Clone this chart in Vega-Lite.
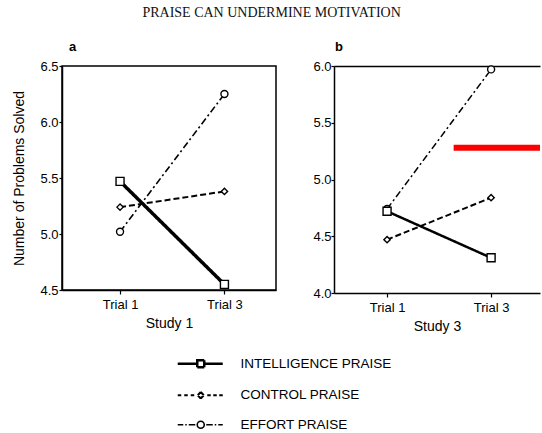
{
  "$schema": "https://vega.github.io/schema/vega-lite/v6.json",
  "background": "white",
  "padding": {"left": 12, "top": 6, "right": 0, "bottom": 0},
  "title": {"text": "PRAISE CAN UNDERMINE MOTIVATION", "font": "Liberation Serif", "fontSize": 14, "fontWeight": "normal", "color": "#111111", "anchor": "middle", "offset": 20, "dx": -6},
  "datasets": {
    "scores": [
      {"study": "Study 1", "praise": "EFFORT PRAISE", "trial": "Trial 1", "pos": 1, "value": 5.02},
      {"study": "Study 1", "praise": "EFFORT PRAISE", "trial": "Trial 3", "pos": 2, "value": 6.25},
      {"study": "Study 1", "praise": "CONTROL PRAISE", "trial": "Trial 1", "pos": 1, "value": 5.24},
      {"study": "Study 1", "praise": "CONTROL PRAISE", "trial": "Trial 3", "pos": 2, "value": 5.38},
      {"study": "Study 1", "praise": "INTELLIGENCE PRAISE", "trial": "Trial 1", "pos": 1, "value": 5.47},
      {"study": "Study 1", "praise": "INTELLIGENCE PRAISE", "trial": "Trial 3", "pos": 2, "value": 4.55},
      {"study": "Study 3", "praise": "EFFORT PRAISE", "trial": "Trial 1", "pos": 1, "value": 4.74},
      {"study": "Study 3", "praise": "EFFORT PRAISE", "trial": "Trial 3", "pos": 2, "value": 5.97},
      {"study": "Study 3", "praise": "CONTROL PRAISE", "trial": "Trial 1", "pos": 1, "value": 4.47},
      {"study": "Study 3", "praise": "CONTROL PRAISE", "trial": "Trial 3", "pos": 2, "value": 4.84},
      {"study": "Study 3", "praise": "INTELLIGENCE PRAISE", "trial": "Trial 1", "pos": 1, "value": 4.72},
      {"study": "Study 3", "praise": "INTELLIGENCE PRAISE", "trial": "Trial 3", "pos": 2, "value": 4.31}
    ],
    "marker": [
      {"pos": 1.64, "pos2": 2.47, "value": 5.28}
    ]
  },
  "spacing": 35,
  "hconcat": [
    {
      "width": 214,
      "height": 224,
      "title": {"text": "a", "anchor": "start", "frame": "group", "font": "Liberation Sans", "fontSize": 13, "fontWeight": "bold", "offset": 6, "dx": 7},
      "data": {"name": "scores"},
      "transform": [{"filter": "datum.study === 'Study 1'"}],
      "layer": [
        {
          "mark": {"type": "line", "color": "black"},
          "encoding": {
            "x": {"field": "pos", "type": "quantitative", "scale": {"domain": [0.444, 2.494], "nice": false, "zero": false},
                  "axis": {"values": [1, 2], "labelExpr": "datum.value == 1 ? 'Trial 1' : 'Trial 3'", "title": "Study 1", "labelPadding": 4, "titlePadding": 5}},
            "y": {"field": "value", "type": "quantitative", "scale": {"domain": [4.5, 6.5], "nice": false, "zero": false},
                  "axis": {"values": [4.5, 5, 5.5, 6, 6.5], "format": ".1f", "title": "Number of Problems Solved", "titlePadding": 13, "tickSize": 3}},
            "strokeDash": {"field": "praise", "type": "nominal",
                  "scale": {"domain": ["INTELLIGENCE PRAISE", "CONTROL PRAISE", "EFFORT PRAISE"], "range": [[1, 0], [6, 3], [7, 3, 2, 3]]},
                  "legend": {"orient": "none", "legendX": 117, "legendY": 291, "title": null, "direction": "vertical", "symbolSize": 400, "rowPadding": 14.5, "labelOffset": 48, "labelFont": "Liberation Sans", "labelFontSize": 13.5, "labelColor": "black", "padding": 0,
                    "symbolStrokeColor": "black", "symbolFillColor": "white",
                    "symbolStrokeWidth": {"expr": "datum.value === 'INTELLIGENCE PRAISE' ? 2.5 : datum.value === 'CONTROL PRAISE' ? 2 : 1.6"},
                    "symbolType": {"expr": "datum.value === 'INTELLIGENCE PRAISE' ? 'M-0.8,0H1.15M1.85,0H3.7M1.15,-0.35H1.85V0.35H1.15Z' : datum.value === 'CONTROL PRAISE' ? 'M-0.8,0H-0.45M-0.15,0H0.2M0.5,0H0.85M1.2,0L1.5,-0.32M1.5,-0.32L1.8,0M1.8,0L1.5,0.32M1.5,0.32L1.2,0M2.15,0H2.5M2.75,0H3.1M3.35,0H3.7' : 'M-0.8,0H-0.25M-0.05,0H0.1M0.3,0H0.95M1.15,0A0.35,0.35,0,0,1,1.5,-0.35M1.5,-0.35A0.35,0.35,0,0,1,1.85,0M1.85,0A0.35,0.35,0,0,1,1.5,0.35M1.5,0.35A0.35,0.35,0,0,1,1.15,0M2.05,0H2.7M2.9,0H3.05M3.25,0H3.7'"}}},
            "strokeWidth": {"condition": [{"test": "datum.praise === 'INTELLIGENCE PRAISE'", "value": 3.5}, {"test": "datum.praise === 'CONTROL PRAISE'", "value": 2}], "value": 1.6}
          }
        },
        {
          "mark": {"type": "point", "filled": true, "fill": "white", "stroke": "black", "strokeWidth": 1.4, "opacity": 1},
          "encoding": {
            "x": {"field": "pos", "type": "quantitative"},
            "y": {"field": "value", "type": "quantitative"},
            "shape": {"condition": [{"test": "datum.praise === 'INTELLIGENCE PRAISE'", "value": "square"}, {"test": "datum.praise === 'CONTROL PRAISE'", "value": "diamond"}], "value": "circle"},
            "size": {"condition": [{"test": "datum.praise === 'INTELLIGENCE PRAISE'", "value": 64}, {"test": "datum.praise === 'CONTROL PRAISE'", "value": 40}], "value": 49}
          }
        }
      ]
    },
    {
      "width": 206,
      "height": 227,
      "view": {"stroke": null},
      "title": {"text": "b", "anchor": "start", "frame": "group", "font": "Liberation Sans", "fontSize": 13, "fontWeight": "bold", "offset": 6, "dx": 1},
      "resolve": {"axis": {"x": "independent"}},
      "layer": [
        {
          "data": {"name": "scores"},
          "transform": [{"filter": "datum.study === 'Study 3'"}],
          "mark": {"type": "line", "color": "black"},
          "encoding": {
            "x": {"field": "pos", "type": "quantitative", "scale": {"domain": [0.49, 2.47], "nice": false, "zero": false},
                  "axis": {"values": [1, 2], "labelExpr": "datum.value == 1 ? 'Trial 1' : 'Trial 3'", "title": "Study 3", "labelPadding": 4, "titlePadding": 5}},
            "y": {"field": "value", "type": "quantitative", "scale": {"domain": [4.0, 6.0], "nice": false, "zero": false},
                  "axis": {"values": [4, 4.5, 5, 5.5, 6], "format": ".1f", "title": null, "tickSize": 3, "labelPadding": 0}},
            "strokeDash": {"field": "praise", "type": "nominal",
                  "scale": {"domain": ["INTELLIGENCE PRAISE", "CONTROL PRAISE", "EFFORT PRAISE"], "range": [[1, 0], [6, 3], [7, 3, 2, 3]]},
                  "legend": {"orient": "none", "legendX": 117, "legendY": 291, "title": null, "direction": "vertical", "symbolSize": 400, "rowPadding": 14.5, "labelOffset": 48, "labelFont": "Liberation Sans", "labelFontSize": 13.5, "labelColor": "black", "padding": 0,
                    "symbolStrokeColor": "black", "symbolFillColor": "white",
                    "symbolStrokeWidth": {"expr": "datum.value === 'INTELLIGENCE PRAISE' ? 2.5 : datum.value === 'CONTROL PRAISE' ? 2 : 1.6"},
                    "symbolType": {"expr": "datum.value === 'INTELLIGENCE PRAISE' ? 'M-0.8,0H1.15M1.85,0H3.7M1.15,-0.35H1.85V0.35H1.15Z' : datum.value === 'CONTROL PRAISE' ? 'M-0.8,0H-0.45M-0.15,0H0.2M0.5,0H0.85M1.2,0L1.5,-0.32M1.5,-0.32L1.8,0M1.8,0L1.5,0.32M1.5,0.32L1.2,0M2.15,0H2.5M2.75,0H3.1M3.35,0H3.7' : 'M-0.8,0H-0.25M-0.05,0H0.1M0.3,0H0.95M1.15,0A0.35,0.35,0,0,1,1.5,-0.35M1.5,-0.35A0.35,0.35,0,0,1,1.85,0M1.85,0A0.35,0.35,0,0,1,1.5,0.35M1.5,0.35A0.35,0.35,0,0,1,1.15,0M2.05,0H2.7M2.9,0H3.05M3.25,0H3.7'"}}},
            "strokeWidth": {"condition": [{"test": "datum.praise === 'INTELLIGENCE PRAISE'", "value": 2.5}, {"test": "datum.praise === 'CONTROL PRAISE'", "value": 2}], "value": 1.5}
          }
        },
        {
          "data": {"name": "scores"},
          "transform": [{"filter": "datum.study === 'Study 3'"}],
          "mark": {"type": "point", "filled": true, "fill": "white", "stroke": "black", "strokeWidth": 1.4, "opacity": 1},
          "encoding": {
            "x": {"field": "pos", "type": "quantitative", "axis": null},
            "y": {"field": "value", "type": "quantitative", "axis": {"values": [4, 4.5, 5, 5.5, 6], "format": ".1f", "title": null, "tickSize": 3, "labelPadding": 0}},
            "shape": {"condition": [{"test": "datum.praise === 'INTELLIGENCE PRAISE'", "value": "square"}, {"test": "datum.praise === 'CONTROL PRAISE'", "value": "diamond"}], "value": "circle"},
            "size": {"condition": [{"test": "datum.praise === 'INTELLIGENCE PRAISE'", "value": 64}, {"test": "datum.praise === 'CONTROL PRAISE'", "value": 40}], "value": 49}
          }
        },
        {
          "data": {"name": "marker"},
          "mark": {"type": "rule", "color": "#ff0000", "strokeWidth": 6},
          "encoding": {
            "x": {"field": "pos", "type": "quantitative", "axis": {"orient": "top", "labels": false, "ticks": false, "title": null, "domain": true, "grid": false}},
            "x2": {"field": "pos2"},
            "y": {"field": "value", "type": "quantitative", "axis": {"values": [4, 4.5, 5, 5.5, 6], "format": ".1f", "title": null, "tickSize": 3, "labelPadding": 0}}
          }
        }
      ]
    }
  ],
  "resolve": {"scale": {"strokeDash": "shared"}, "legend": {"strokeDash": "shared"}},
  "config": {
    "view": {"stroke": "black", "strokeWidth": 1.5},
    "font": "Liberation Sans",
    "axis": {"grid": false, "domainColor": "black", "domainWidth": 1.5, "tickColor": "black", "tickWidth": 1.2, "tickSize": 4, "labelFont": "Liberation Sans", "labelFontSize": 13, "labelColor": "black", "titleFont": "Liberation Sans", "titleFontSize": 14, "titleFontWeight": "normal", "titleColor": "black", "labelPadding": 1}
  }
}
